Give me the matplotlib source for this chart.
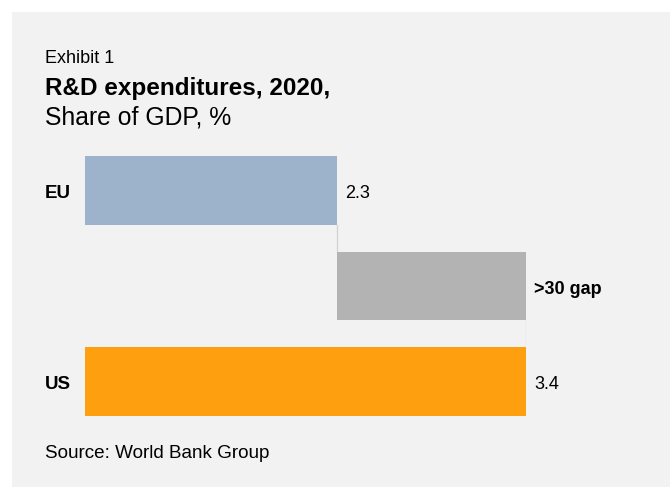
import matplotlib
matplotlib.use("Agg")
import matplotlib.pyplot as plt
import matplotlib.transforms as mtransforms
from matplotlib.patches import Rectangle

plt.rcParams['font.family'] = ['Liberation Sans', 'DejaVu Sans']

# data
regions = ["EU", "US"]
values = [2.3, 3.4]
gap_label = ">30 gap"
colors = ["#9db3cb", "#fd9f0e"]
gap_color = "#b3b3b3"

W, H = 670, 487
fig = plt.figure(figsize=(W / 100, H / 100), dpi=100)
fig.patch.set_facecolor("white")

# light grey panel
fig.patches.append(Rectangle((12 / W, 0), 1 - 12 / W, 1 - 12 / H,
                             transform=fig.transFigure, facecolor="#f2f2f2",
                             edgecolor="none", zorder=-5))

def fy(px):
    return 1 - px / H

fig.text(45 / W, fy(63), "Exhibit 1", fontsize=13, va="baseline", ha="left")
fig.text(45 / W, fy(95), "R&D expenditures, 2020,", fontsize=17.5,
         fontweight="bold", va="baseline", ha="left")
fig.text(45 / W, fy(125), "Share of GDP, %", fontsize=17.8, va="baseline", ha="left")
fig.text(45 / W, fy(458), "Source: World Bank Group", fontsize=13.6,
         va="baseline", ha="left")

ax = fig.add_axes([85 / W, 1 - 416 / H, (526 - 85) / W, 260 / H])
ax.set_facecolor("none")
for s in ax.spines.values():
    s.set_visible(False)
ax.set_xticks([])
ax.set_yticks([])

h = 0.72
ypos = [0, 2]
eu, us = values
ax.barh(ypos[0], eu, height=h, color=colors[0])
ax.barh(1, us - eu, left=eu, height=h, color=gap_color)
ax.barh(ypos[1], us, height=h, color=colors[1])

# thin connectors
ax.plot([eu, eu], [h / 2, 1 - h / 2], color="#d4d4d4", lw=1, zorder=0)
ax.plot([us, us], [1 + h / 2, 2 - h / 2], color="#d4d4d4", lw=1, zorder=0)

ax.set_xlim(0.833, 3.4)
ax.set_ylim(2 + h / 2, -h / 2)

off = mtransforms.offset_copy(ax.transData, fig=fig, x=8, y=-3, units="dots")
ax.text(eu, ypos[0], f"{eu}", transform=off, fontsize=13, va="center", ha="left")
ax.text(us, 1, gap_label, transform=off, fontsize=13, fontweight="bold",
        va="center", ha="left")
ax.text(us, ypos[1], f"{us}", transform=off, fontsize=13, va="center", ha="left")

lab_tr = mtransforms.offset_copy(
    mtransforms.blended_transform_factory(fig.transFigure, ax.transData),
    fig=fig, x=0, y=-3, units="dots")
for name, y in zip(regions, ypos):
    ax.text(45 / W, y, name, transform=lab_tr, fontsize=13.5, fontweight="bold",
            va="center", ha="left")

fig.savefig("out.png", dpi=100, facecolor="white")
